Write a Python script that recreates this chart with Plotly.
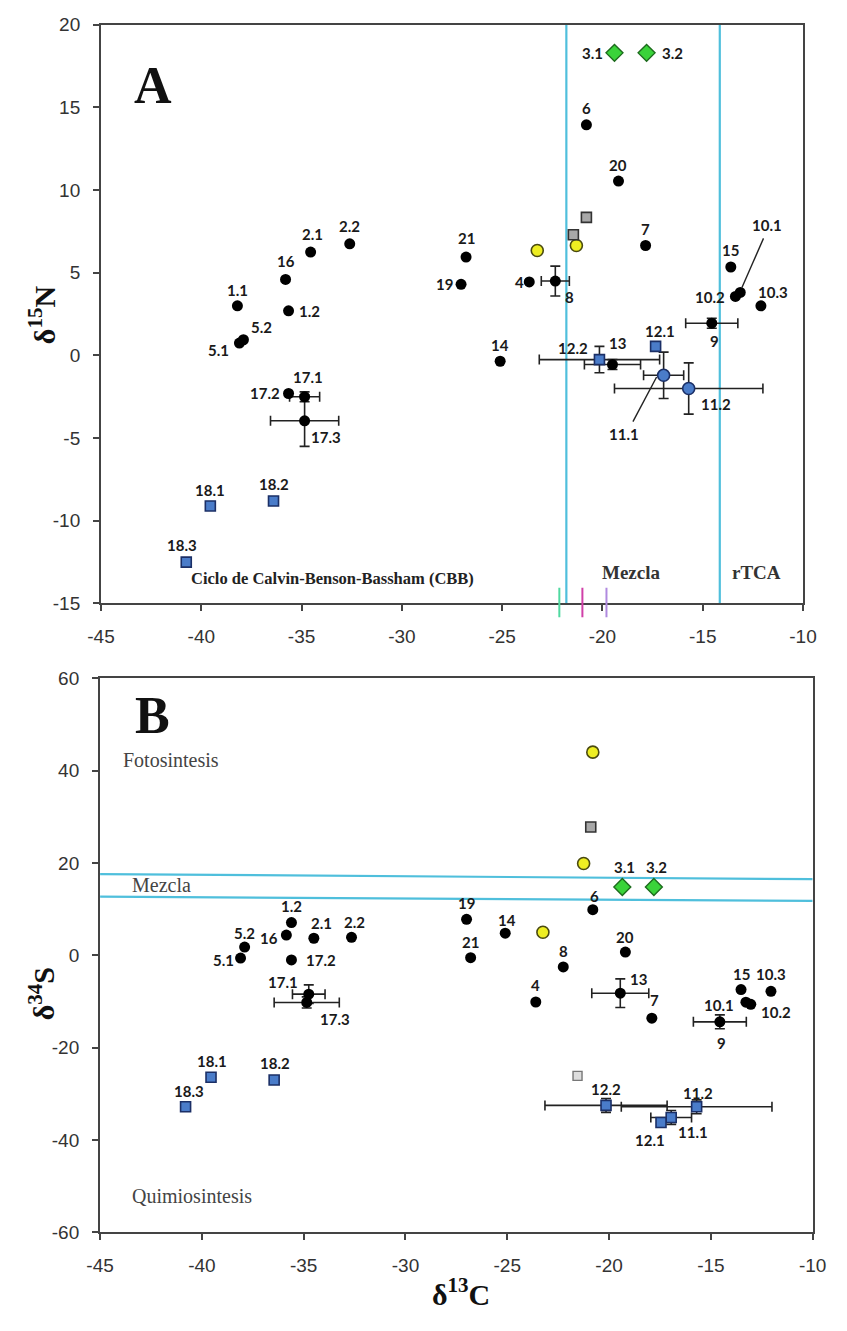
import plotly.graph_objects as go

W, H = 847, 1331

# ---------------- Panel A data (d13C, d15N) ----------------
A_black_labels = ['1.1', '1.2', '2.1', '2.2', '4', '5.1', '5.2', '6', '7', '8', '9',
                  '10.1', '10.2', '10.3', '13', '14', '15', '16', '17.1', '17.2', '17.3',
                  '19', '20', '21']
A_black_x = [-38.2, -35.65, -34.55, -32.6, -23.65, -38.1, -37.9, -20.8, -17.85, -22.35, -14.55,
             -13.13, -13.37, -12.1, -19.5, -25.1, -13.6, -35.8, -34.85, -35.65, -34.85,
             -27.05, -19.2, -26.8]
A_black_y = [3.0, 2.7, 6.25, 6.75, 4.45, 0.75, 0.95, 13.95, 6.65, 4.5, 1.95,
             3.81, 3.57, 3.0, -0.55, -0.35, 5.35, 4.6, -2.5, -2.3, -3.95,
             4.3, 10.55, 5.95]
A_bluesq_labels = ['12.1', '12.2', '18.1', '18.2', '18.3']
A_bluesq_x = [-17.35, -20.15, -39.55, -36.4, -40.75]
A_bluesq_y = [0.55, -0.25, -9.1, -8.8, -12.5]
A_bluec_labels = ['11.1', '11.2']
A_bluec_x = [-16.95, -15.7]
A_bluec_y = [-1.2, -2.0]
A_green_labels = ['3.1', '3.2']
A_green_x = [-19.4, -17.8]
A_green_y = [18.3, 18.3]
A_yellow_x = [-23.25, -21.3]
A_yellow_y = [6.35, 6.65]
A_grey_x = [-20.8, -21.45]
A_grey_y = [8.35, 7.3]
A_err_labels = ['8', '9', '13', '17.1', '17.3', '12.2', '11.1', '11.2']
A_err_dx = [0.7, 1.3, 1.4, 0.75, 1.7, 3.0, 1.0, 3.7]
A_err_dy = [0.9, 0.3, 0.3, 0.3, 1.55, 0.8, 1.4, 1.55]
A_vlines = [-21.8, -14.15]
A_small_ticks = [-22.15, -21.0, -19.8]

# ---------------- Panel B data (d13C, d34S) ----------------
B_black_labels = ['1.2', '16', '2.1', '2.2', '5.2', '5.1', '17.2', '17.1', '17.3', '19', '14',
                  '21', '6', '20', '8', '4', '13', '7', '15', '10.3', '10.1', '10.2', '9']
B_black_x = [-35.6, -35.85, -34.5, -32.65, -37.9, -38.1, -35.6, -34.75, -34.85, -27.0, -25.1,
             -26.8, -20.8, -19.2, -22.25, -23.6, -19.45, -17.9, -13.52, -12.05, -13.28, -13.04, -14.56]
B_black_y = [7.1, 4.4, 3.7, 3.9, 1.8, -0.6, -1.0, -8.4, -10.2, 7.8, 4.8,
             -0.5, 9.9, 0.7, -2.5, -10.1, -8.2, -13.6, -7.4, -7.8, -10.15, -10.6, -14.4]
B_bluesq_labels = ['12.2', '11.2', '11.1', '12.1', '18.1', '18.2', '18.3']
B_bluesq_x = [-20.15, -15.7, -16.95, -17.45, -39.55, -36.45, -40.8]
B_bluesq_y = [-32.5, -32.8, -35.1, -36.2, -26.4, -27.0, -32.8]
B_green_labels = ['3.1', '3.2']
B_green_x = [-19.35, -17.8]
B_green_y = [14.8, 14.8]
B_yellow_x = [-20.8, -21.25, -23.25]
B_yellow_y = [44.0, 19.9, 5.0]
B_grey_x = [-20.9]
B_grey_y = [27.8]
B_lightgrey_x = [-21.55]
B_lightgrey_y = [-26.1]
B_err_labels = ['17.1', '17.3', '13', '9', '12.2', '11.2', '11.1']
B_err_dx = [0.8, 1.6, 1.4, 1.3, 3.0, 3.7, 1.0]
B_err_dy = [2.0, 1.2, 3.1, 1.5, 1.5, 1.5, 1.5]
B_hline_top = [17.6, 16.5]
B_hline_bot = [12.7, 11.8]

# tick values and labels
X_ticks = [-45, -40, -35, -30, -25, -20, -15, -10]
X_ticktext = ['-45', '-40', '-35', '-30', '-25', '-20', '-15', '-10']
A_yticks = [-15, -10, -5, 0, 5, 10, 15, 20]
A_yticktext = ['-15', '-10', '-5', '0', '5', '10', '15', '20']
B_yticks = [-60, -40, -20, 0, 20, 40, 60]
B_yticktext = ['-60', '-40', '-20', '0', '20', '40', '60']

# label offsets in pixels (dx, dy up)
A_off = {'1.1': (0, 16), '1.2': (21, 0), '2.1': (2, 18), '2.2': (0, 18), '4': (-10, 0),
         '5.1': (-21, -7), '5.2': (18, 13), '6': (0, 17), '7': (0, 17), '8': (14, -16),
         '9': (3, -18), '10.1': (27, 67), '10.2': (-25, -1), '10.3': (12, 14), '13': (5, 22),
         '14': (0, 16), '15': (0, 17), '16': (0, 18), '17.1': (3, 20), '17.2': (-24, 0),
         '17.3': (21, -16), '19': (-17, 0), '20': (0, 16), '21': (0, 19), '12.1': (4, 15),
         '12.2': (-26, 12), '11.1': (-40, -59), '11.2': (27, -15), '18.1': (0, 16),
         '18.2': (0, 17), '18.3': (-4, 17), '3.1': (-22, 0), '3.2': (26, 0)}
B_off = {'1.2': (0, 17), '16': (-17, -3), '2.1': (8, 15), '2.2': (3, 15), '5.2': (0, 14),
         '5.1': (-17, -2), '17.2': (30, 0), '17.1': (-26, 12), '17.3': (28, -17), '19': (0, 16),
         '14': (2, 13), '21': (0, 16), '6': (2, 14), '3.1': (2, 20), '3.2': (3, 20), '20': (0, 15),
         '8': (0, 16), '4': (0, 17), '13': (18, 14), '7': (3, 18), '15': (0, 16), '10.3': (0, 17),
         '10.1': (-27, -3), '10.2': (25, -8), '9': (2, -21), '12.2': (0, 16), '11.2': (1, 14),
         '11.1': (22, -15), '12.1': (-11, -17), '18.1': (1, 16), '18.2': (1, 17), '18.3': (3, 16)}

fig = go.Figure()

BLUE = '#4a7cc9'
BLUE_LINE = '#1b2f66'
CYAN = '#4fbfdc'
LABEL_FONT = dict(family='Lato', size=15, color='#1a1a1a', weight='bold')


def pts(labels, xs, ys):
    return {l: (x, y) for l, x, y in zip(labels, xs, ys)}


def add_panel(xa, ya, groups, err_labels, err_dx, err_dy, offsets):
    allpts = {}
    for g in groups:
        if g.get('labels'):
            allpts.update(pts(g['labels'], g['x'], g['y']))
    ex = [allpts[l][0] for l in err_labels]
    ey = [allpts[l][1] for l in err_labels]
    fig.add_trace(go.Scatter(x=ex, y=ey, xaxis=xa, yaxis=ya, mode='markers',
                             marker=dict(size=1, color='rgba(0,0,0,0)'),
                             error_x=dict(type='data', array=err_dx, color='#222', thickness=1.6, width=5),
                             error_y=dict(type='data', array=err_dy, color='#222', thickness=1.6, width=5),
                             hoverinfo='skip', showlegend=False))
    for g in groups:
        fig.add_trace(go.Scatter(x=g['x'], y=g['y'], xaxis=xa, yaxis=ya, mode='markers',
                                 marker=g['marker'], showlegend=False, cliponaxis=False))
        if g.get('labels'):
            for l, x, y in zip(g['labels'], g['x'], g['y']):
                dx, dy = offsets[l]
                fig.add_annotation(x=x, y=y, xref=xa, yref=ya, text=l, showarrow=False,
                                   xanchor='center', yanchor='middle',
                                   xshift=dx, yshift=dy, font=LABEL_FONT)


black_m = dict(size=11, color='#000000', line=dict(width=0))
bluesq_m = dict(size=10, symbol='square', color=BLUE, line=dict(color=BLUE_LINE, width=1.6))
bluec_m = dict(size=12, symbol='circle', color=BLUE, line=dict(color=BLUE_LINE, width=1.6))
green_m = dict(size=13, symbol='diamond', color='#3ad33a', line=dict(color='#1d6b1d', width=1.4))
yellow_m = dict(size=12, symbol='circle', color='#eeee22', line=dict(color='#4a4a10', width=1.6))
grey_m = dict(size=10, symbol='square', color='#a8a8a8', line=dict(color='#333333', width=1.6))
lgrey_m = dict(size=9, symbol='square', color='#dddddd', line=dict(color='#777777', width=1.4))

add_panel('x', 'y', [
    dict(labels=A_black_labels, x=A_black_x, y=A_black_y, marker=black_m),
    dict(labels=A_bluesq_labels, x=A_bluesq_x, y=A_bluesq_y, marker=bluesq_m),
    dict(labels=A_bluec_labels, x=A_bluec_x, y=A_bluec_y, marker=bluec_m),
    dict(labels=A_green_labels, x=A_green_x, y=A_green_y, marker=green_m),
    dict(labels=None, x=A_yellow_x, y=A_yellow_y, marker=yellow_m),
    dict(labels=None, x=A_grey_x, y=A_grey_y, marker=grey_m),
], A_err_labels, A_err_dx, A_err_dy, A_off)

add_panel('x2', 'y2', [
    dict(labels=B_black_labels, x=B_black_x, y=B_black_y, marker=black_m),
    dict(labels=B_bluesq_labels, x=B_bluesq_x, y=B_bluesq_y, marker=bluesq_m),
    dict(labels=B_green_labels, x=B_green_x, y=B_green_y, marker=green_m),
    dict(labels=None, x=B_yellow_x, y=B_yellow_y, marker=yellow_m),
    dict(labels=None, x=B_grey_x, y=B_grey_y, marker=grey_m),
    dict(labels=None, x=B_lightgrey_x, y=B_lightgrey_y, marker=lgrey_m),
], B_err_labels, B_err_dx, B_err_dy, B_off)

# Region lines panel A
for v in A_vlines:
    fig.add_shape(type='line', xref='x', yref='y', x0=v, x1=v, y0=-15, y1=20,
                  line=dict(color=CYAN, width=2.2), layer='below')
tick_cols = ['#4fd9a0', '#d040a8', '#b08adf']
yA0 = 1 - 617 / H
yA1 = 1 - 587 / H
for v, c in zip(A_small_ticks, tick_cols):
    fig.add_shape(type='line', xref='x', yref='paper', x0=v, x1=v, y0=yA0, y1=yA1,
                  line=dict(color=c, width=2))

# Leader lines panel A
fig.add_shape(type='line', xref='x', yref='y', x0=-13.05, y0=4.1, x1=-11.97, y1=7.08,
              line=dict(color='#222', width=1.4))
fig.add_shape(type='line', xref='x', yref='y', x0=-17.3, y0=-1.3, x1=-18.48, y1=-4.0,
              line=dict(color='#222', width=1.4))

# Region lines panel B
for ln in (B_hline_top, B_hline_bot):
    fig.add_shape(type='line', xref='x2', yref='y2', x0=-45, x1=-10, y0=ln[0], y1=ln[1],
                  line=dict(color=CYAN, width=2.2), layer='below')

SERIF = 'Liberation Serif'
txt = [
    ('x', 'y', -42.4, 16.3, '<b>A</b>', 52, '#111'),
    ('x', 'y', -33.48, -13.5, '<b>Ciclo de Calvin-Benson-Bassham (CBB)</b>', 16.5, '#222'),
    ('x', 'y', -18.53, -13.15, '<b>Mezcla</b>', 19, '#333'),
    ('x', 'y', -12.3, -13.15, '<b>rTCA</b>', 19, '#333'),
    ('x2', 'y2', -42.44, 51.9, '<b>B</b>', 52, '#111'),
    ('x2', 'y2', -41.5, 42.3, 'Fotosintesis', 20, '#444'),
    ('x2', 'y2', -42.0, 15.2, 'Mezcla', 20, '#444'),
    ('x2', 'y2', -40.5, -52.2, 'Quimiosintesis', 20, '#444'),
]
for xr, yr, x, y, t, s, c in txt:
    fig.add_annotation(x=x, y=y, xref=xr, yref=yr, text=t, showarrow=False,
                       xanchor='center', yanchor='middle',
                       font=dict(family=SERIF, size=s, color=c))

# Axis titles
fig.add_annotation(x=29 / W, y=1 - 310 / H, xref='paper', yref='paper', showarrow=False,
                   xanchor='center', yanchor='middle',
                   text='<b>δ<sup>15</sup>N</b>', textangle=-90,
                   font=dict(family=SERIF, size=30, color='#111'))
fig.add_annotation(x=29 / W, y=1 - 1000 / H, xref='paper', yref='paper', showarrow=False,
                   xanchor='center', yanchor='middle',
                   text='<b>δ<sup>34</sup>S</b>', textangle=-90,
                   font=dict(family=SERIF, size=30, color='#111'))
fig.add_annotation(x=462 / W, y=1 - 1303 / H, xref='paper', yref='paper', showarrow=False,
                   xanchor='center', yanchor='middle',
                   text='<b>δ<sup>13</sup>C</b>',
                   font=dict(family=SERIF, size=30, color='#111'))

axis_common = dict(showgrid=False, zeroline=False, showline=True, linecolor='#444', linewidth=2,
                   mirror=True, ticks='outside', ticklen=6, tickwidth=1.5, tickcolor='#444',
                   ticklabelstandoff=9,
                   tickfont=dict(family='Liberation Sans', size=19, color='#333'))

fig.update_layout(
    width=W, height=H, margin=dict(l=0, r=0, t=0, b=0), paper_bgcolor='white',
    plot_bgcolor='white', showlegend=False,
    xaxis=dict(domain=[90 / W, 816 / W], range=[-45, -10], tickvals=X_ticks, ticktext=X_ticktext,
               anchor='y', **axis_common),
    yaxis=dict(domain=[1 - 603 / H, 1 - 15 / H], range=[-15, 20], tickvals=A_yticks,
               ticktext=A_yticktext, anchor='x', **axis_common),
    xaxis2=dict(domain=[89 / W, 826 / W], range=[-45, -10], tickvals=X_ticks, ticktext=X_ticktext,
                anchor='y2', **axis_common),
    yaxis2=dict(domain=[1 - 1242 / H, 1 - 679 / H], range=[-60, 60], tickvals=B_yticks,
                ticktext=B_yticktext, anchor='x2', **axis_common),
)

fig.write_html('out.html')
